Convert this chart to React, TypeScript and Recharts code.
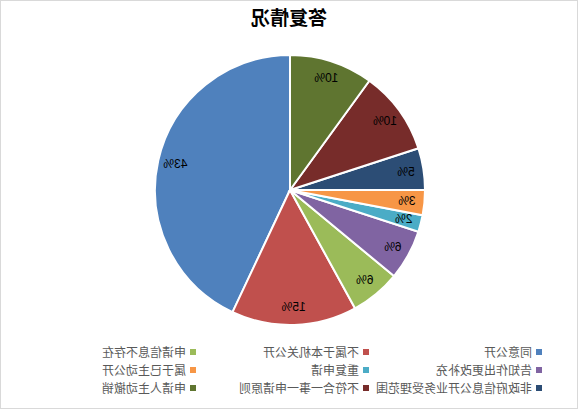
import React from "react";
import { PieChart, Pie, Cell, Legend } from "recharts";

const categories = [
  "同意公开",
  "不属于本机关公开",
  "申请信息不存在",
  "告知作出更改补充",
  "重复申请",
  "属于已主动公开",
  "非政府信息公开业务受理范围",
  "不符合一事一申请原则",
  "申请人主动撤销",
];
const values = [43, 15, 6, 6, 2, 3, 5, 10, 10];
const colors = [
  "#4F81BD",
  "#C0504D",
  "#9BBB59",
  "#8064A2",
  "#4BACC6",
  "#F79646",
  "#2C4D75",
  "#772C2A",
  "#5F7530",
];
const title = "答复情况";

const data = categories.map((name, i) => ({ name, value: values[i] }));

const RAD = Math.PI / 180;
const renderLabel = (props: any) => {
  const { cx, cy, midAngle, outerRadius, percent } = props;
  const r = outerRadius * 0.87;
  const x = cx + r * Math.cos(-midAngle * RAD);
  const y = cy + r * Math.sin(-midAngle * RAD);
  return (
    <text
      x={x}
      y={y}
      fill="#000"
      fontSize={12}
      fontFamily="'Liberation Sans', Arial, sans-serif"
      textAnchor="middle"
      dominantBaseline="central"
    >
      {Math.round(percent * 100) + "%"}
    </text>
  );
};

const colLefts = [36, 209, 382];
const rowCenters = [352, 370, 388];

const LegendContent = () => {
  return (
    <div style={{ position: "relative", width: 578, height: 410 }}>
      {categories.map((name, i) => {
        const col = i % 3;
        const row = Math.floor(i / 3);
        return (
          <div
            key={i}
            style={{
              position: "absolute",
              left: colLefts[col],
              top: rowCenters[row] - 9,
              height: 18,
              display: "flex",
              alignItems: "center",
              whiteSpace: "nowrap",
              fontFamily: "'Noto Sans CJK SC', sans-serif",
              fontSize: 12,
              color: "#595959",
              lineHeight: "18px",
            }}
          >
            <span
              style={{
                display: "inline-block",
                width: 6,
                height: 6,
                background: colors[i],
                marginRight: 4,
              }}
            />
            {name}
          </div>
        );
      })}
    </div>
  );
};

export default function App() {
  return (
    <div
      style={{
        position: "absolute",
        left: 0,
        top: 0,
        width: 578,
        height: 410,
        transform: "scaleX(-1)",
        background: "#fff",
      }}
    >
      <div
        style={{
          position: "absolute",
          left: 0,
          top: 0,
          width: 576,
          height: 407,
          border: "1px solid #d9d9d9",
        }}
      />
      <div
        style={{
          position: "absolute",
          left: 0,
          top: 5,
          width: 578,
          textAlign: "center",
          fontFamily: "'Noto Sans CJK SC', sans-serif",
          fontWeight: "bold",
          fontSize: 19,
          color: "#000",
          lineHeight: "24px",
        }}
      >
        {title}
      </div>
      <PieChart
        width={578}
        height={410}
        margin={{ top: 0, right: 0, bottom: 0, left: 0 }}
        style={{ position: "absolute", left: 0, top: 0 }}
      >
        <Pie
          data={data}
          dataKey="value"
          nameKey="name"
          cx={288}
          cy={190}
          outerRadius={135}
          startAngle={90}
          endAngle={-270}
          stroke="#fff"
          strokeWidth={2}
          label={renderLabel}
          labelLine={false}
          isAnimationActive={false}
        >
          {data.map((d, i) => (
            <Cell key={i} fill={colors[i]} />
          ))}
        </Pie>
        <Legend
          content={<LegendContent />}
          wrapperStyle={{ position: "absolute", left: 0, top: 0, width: 578, height: 410 }}
        />
      </PieChart>
    </div>
  );
}
